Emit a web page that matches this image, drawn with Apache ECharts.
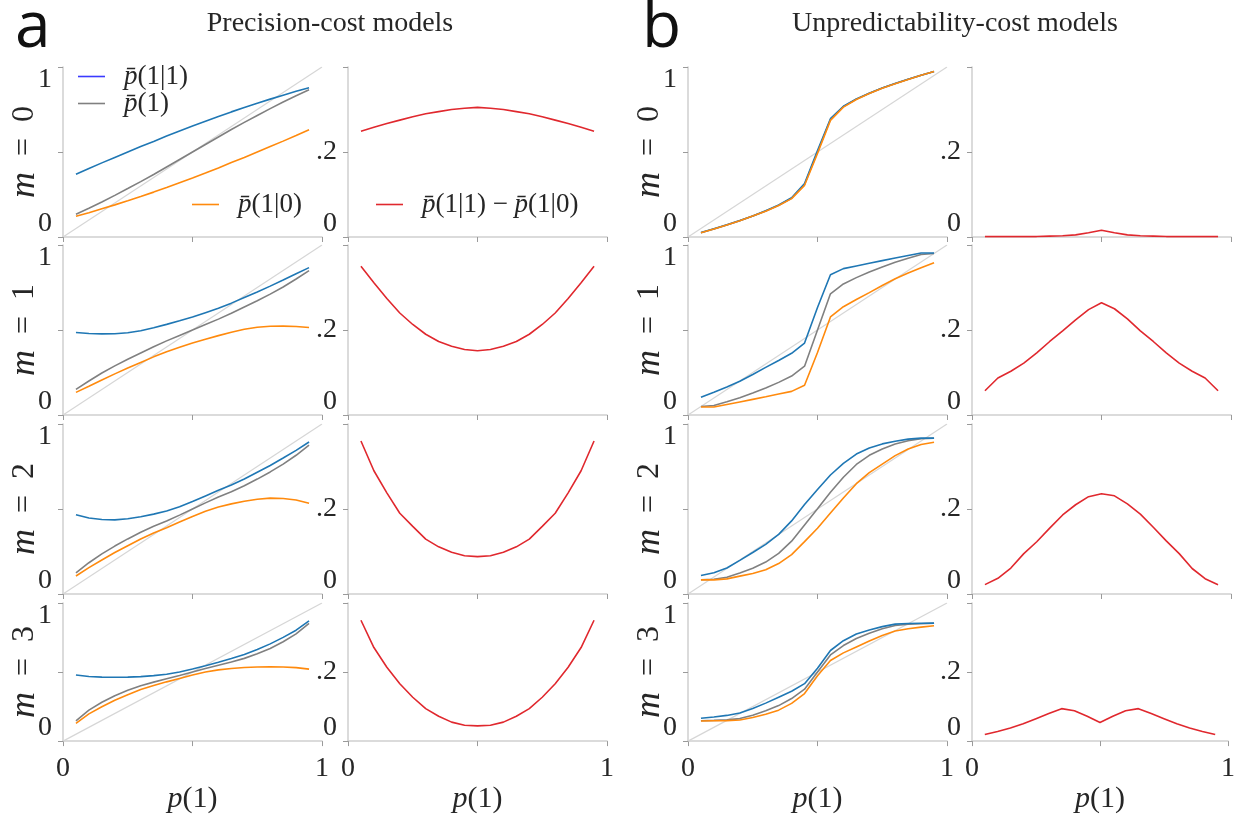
<!DOCTYPE html>
<html>
<head>
<meta charset="utf-8">
<script src="https://cdn.jsdelivr.net/npm/echarts@6/dist/echarts.min.js"></script>
<style>
  html, body { margin: 0; padding: 0; background: #ffffff; }
  #chart { width: 1238px; height: 815px; }
</style>
</head>
<body>
<div id="chart"></div>
<script>
// p(1) grid shared by every panel
const pValues = [0.05, 0.10, 0.15, 0.20, 0.25, 0.30, 0.35, 0.40, 0.45, 0.50,
                 0.55, 0.60, 0.65, 0.70, 0.75, 0.80, 0.85, 0.90, 0.95];
const memoryLevels = ['0', '1', '2', '3'];
const panelTitles = ['Precision-cost models', 'Unpredictability-cost models'];
const panelLetters = ['a', 'b'];

// Precision-cost models, one row per memory length m
const precBlue = [
  [0.369,0.403,0.436,0.468,0.500,0.532,0.562,0.594,0.624,0.653,0.681,0.709,0.736,0.762,0.787,0.811,0.834,0.857,0.878],
  [0.485,0.479,0.477,0.478,0.484,0.496,0.513,0.533,0.554,0.576,0.602,0.628,0.658,0.691,0.724,0.758,0.794,0.831,0.867],
  [0.466,0.447,0.438,0.436,0.443,0.454,0.470,0.488,0.513,0.544,0.577,0.610,0.641,0.676,0.716,0.756,0.800,0.845,0.894],
  [0.479,0.468,0.463,0.462,0.463,0.467,0.474,0.484,0.500,0.522,0.546,0.571,0.598,0.627,0.664,0.704,0.751,0.803,0.871]
];
const precGray = [
  [0.134,0.169,0.206,0.245,0.285,0.326,0.368,0.412,0.456,0.500,0.544,0.588,0.632,0.674,0.715,0.755,0.794,0.831,0.866],
  [0.151,0.200,0.247,0.289,0.328,0.365,0.402,0.436,0.468,0.500,0.532,0.564,0.598,0.635,0.672,0.711,0.753,0.800,0.849],
  [0.124,0.184,0.236,0.282,0.324,0.363,0.398,0.429,0.464,0.500,0.536,0.571,0.602,0.637,0.676,0.718,0.764,0.816,0.876],
  [0.147,0.224,0.281,0.329,0.368,0.401,0.427,0.451,0.475,0.500,0.525,0.549,0.573,0.599,0.632,0.671,0.719,0.776,0.853]
];
const precOrange = [
  [0.122,0.143,0.166,0.189,0.213,0.238,0.264,0.291,0.319,0.347,0.376,0.406,0.438,0.468,0.500,0.532,0.564,0.597,0.631],
  [0.133,0.169,0.206,0.242,0.276,0.309,0.342,0.372,0.398,0.424,0.446,0.467,0.487,0.504,0.516,0.522,0.523,0.521,0.515],
  [0.106,0.155,0.200,0.244,0.284,0.324,0.359,0.390,0.423,0.456,0.487,0.512,0.530,0.546,0.557,0.564,0.562,0.553,0.534],
  [0.129,0.197,0.249,0.296,0.336,0.373,0.402,0.429,0.454,0.478,0.500,0.516,0.526,0.533,0.537,0.538,0.537,0.532,0.521]
];
const precDiff = [
  [0.249,0.258,0.267,0.275,0.283,0.290,0.295,0.300,0.303,0.305,0.303,0.300,0.295,0.290,0.283,0.275,0.267,0.258,0.249],
  [0.350,0.311,0.274,0.240,0.213,0.190,0.173,0.162,0.154,0.151,0.154,0.162,0.173,0.190,0.213,0.240,0.274,0.311,0.350],
  [0.360,0.290,0.238,0.190,0.159,0.129,0.111,0.098,0.090,0.088,0.090,0.098,0.111,0.129,0.159,0.190,0.238,0.290,0.360],
  [0.350,0.271,0.214,0.166,0.127,0.094,0.072,0.055,0.046,0.044,0.046,0.055,0.072,0.094,0.127,0.166,0.214,0.271,0.350]
];

// Unpredictability-cost models
const unpBlue = [
  [0.026,0.048,0.072,0.097,0.124,0.154,0.188,0.231,0.314,0.508,0.696,0.769,0.812,0.846,0.876,0.903,0.928,0.952,0.974],
  [0.104,0.134,0.165,0.199,0.238,0.280,0.321,0.363,0.423,0.632,0.825,0.861,0.877,0.893,0.908,0.923,0.938,0.953,0.953],
  [0.109,0.125,0.153,0.198,0.244,0.292,0.351,0.430,0.526,0.615,0.700,0.768,0.823,0.859,0.883,0.899,0.911,0.917,0.917],
  [0.165,0.175,0.186,0.203,0.236,0.275,0.318,0.361,0.416,0.527,0.656,0.727,0.776,0.805,0.829,0.847,0.852,0.853,0.854]
];
const unpGray = [
  [0.025,0.047,0.071,0.096,0.123,0.153,0.186,0.228,0.309,0.500,0.691,0.767,0.811,0.845,0.876,0.903,0.928,0.952,0.974],
  [0.050,0.056,0.078,0.101,0.129,0.159,0.192,0.229,0.287,0.500,0.713,0.771,0.808,0.841,0.871,0.899,0.922,0.944,0.950],
  [0.084,0.087,0.099,0.124,0.152,0.188,0.239,0.311,0.406,0.501,0.599,0.687,0.762,0.816,0.853,0.882,0.902,0.913,0.916],
  [0.147,0.150,0.154,0.163,0.187,0.219,0.257,0.308,0.376,0.500,0.624,0.692,0.743,0.781,0.813,0.837,0.846,0.850,0.853]
];
const unpOrange = [
  [0.025,0.047,0.071,0.096,0.123,0.152,0.185,0.226,0.304,0.492,0.686,0.764,0.809,0.844,0.875,0.902,0.927,0.951,0.973],
  [0.047,0.047,0.062,0.077,0.092,0.107,0.123,0.139,0.175,0.368,0.577,0.637,0.679,0.720,0.762,0.801,0.835,0.866,0.896],
  [0.083,0.083,0.089,0.105,0.121,0.143,0.179,0.232,0.308,0.387,0.476,0.565,0.649,0.714,0.764,0.814,0.853,0.879,0.893],
  [0.146,0.147,0.148,0.153,0.171,0.195,0.224,0.273,0.344,0.473,0.584,0.639,0.682,0.725,0.764,0.797,0.814,0.825,0.835]
];
const unpDiff = [
  [0.001,0.001,0.001,0.001,0.001,0.002,0.003,0.005,0.010,0.016,0.010,0.005,0.003,0.002,0.001,0.001,0.001,0.001,0.001],
  [0.057,0.087,0.103,0.122,0.146,0.173,0.198,0.224,0.248,0.264,0.250,0.226,0.198,0.173,0.146,0.122,0.103,0.087,0.057],
  [0.022,0.037,0.061,0.095,0.123,0.155,0.186,0.210,0.229,0.236,0.231,0.212,0.188,0.157,0.125,0.095,0.060,0.036,0.022],
  [0.019,0.028,0.038,0.050,0.065,0.080,0.094,0.088,0.072,0.054,0.072,0.088,0.094,0.080,0.065,0.050,0.038,0.028,0.019]
];

// series names (legend entries)
const NAME_COND1 = 'cond1';
const NAME_MARG = 'marg';
const NAME_COND0 = 'cond0';
const NAME_DIFF = 'diff';

const COLORS = {
  blue: '#1f77b4', gray: '#808080', orange: '#ff8a0d', red: '#e0282e',
  diag: '#d6d6d6', axis: '#cfcfcf', tick: '#9a9a9a', text: '#262626',
  legendBlue: '#3a3aff'
};
const SERIF = '"Liberation Serif", "DejaVu Serif", serif';
const FS = 28;

// panel layout
const colLeft = [63, 348, 688, 972];
const colWidth = 259;
const rowTop = [67, 245, 424, 603];
const rowHeight = 170;

const grids = [], xAxes = [], yAxes = [], series = [];

function pairs(ys) { return pValues.map((p, i) => [p, ys[i]]); }

const richX = {
  i: { fontFamily: SERIF, fontStyle: 'italic', fontSize: 30, color: COLORS.text },
  t: { fontFamily: SERIF, fontSize: 30, color: COLORS.text }
};
const richY = {
  i: { fontFamily: SERIF, fontStyle: 'italic', fontSize: 36, color: COLORS.text },
  t: { fontFamily: SERIF, fontSize: 32, color: COLORS.text }
};

for (let r = 0; r < 4; r++) {
  for (let c = 0; c < 4; c++) {
    const idx = r * 4 + c;
    const isDiff = (c === 1 || c === 3);
    grids.push({ left: colLeft[c], top: rowTop[r], width: colWidth, height: rowHeight, containLabel: false });

    const lastRow = r === 3;
    xAxes.push({
      type: 'value', gridIndex: idx, min: 0, max: 1, interval: 0.5,
      axisLine: { show: true, lineStyle: { color: COLORS.axis, width: 1.5 } },
      axisTick: { show: true, length: 5, lineStyle: { color: COLORS.tick, width: 1 } },
      splitLine: { show: false },
      axisLabel: {
        show: lastRow, margin: 14, fontFamily: SERIF, fontSize: FS, color: COLORS.text,
        formatter: v => (v === 0 ? '0' : (v === 1 ? '1' : ''))
      },
      name: lastRow ? '{i|p}{t|(1)}' : '',
      nameLocation: 'middle', nameGap: 12,
      nameTextStyle: { rich: richX }
    });

    const yLabelRich = {
      hi: { fontFamily: SERIF, fontSize: FS, color: COLORS.text, padding: [26, 0, 0, 0] },
      lo: { fontFamily: SERIF, fontSize: FS, color: COLORS.text, padding: [0, 0, 26, 0] }
    };
    yAxes.push({
      type: 'value', gridIndex: idx, min: 0, max: isDiff ? 0.4 : 1, interval: isDiff ? 0.2 : 0.5,
      axisLine: { show: true, lineStyle: { color: COLORS.axis, width: 1.5 } },
      axisTick: { show: true, length: 5, lineStyle: { color: COLORS.tick, width: 1 } },
      splitLine: { show: false },
      axisLabel: {
        show: true, margin: 11, fontFamily: SERIF, fontSize: FS, color: COLORS.text,
        rich: yLabelRich,
        formatter: isDiff
          ? (v => (v === 0 ? '{lo|0}' : (Math.abs(v - 0.2) < 1e-9 ? '.2' : '')))
          : (v => (v === 0 ? '{lo|0}' : (v === 1 ? '{hi|1}' : '')))
      },
      name: isDiff ? '' : '{i|m}{t|\u2002=\u2002' + memoryLevels[r] + '}',
      nameLocation: 'middle', nameRotate: 90, nameGap: 20, nameMoveOverlap: false,
      nameTextStyle: { rich: richY }
    });

    const base = { type: 'line', xAxisIndex: idx, yAxisIndex: idx, symbol: 'none',
                   showSymbol: false, smooth: false, animation: false, silent: true };
    if (!isDiff) {
      const src = c === 0
        ? { b: precBlue, g: precGray, o: precOrange }
        : { b: unpBlue, g: unpGray, o: unpOrange };
      series.push(Object.assign({}, base, {
        name: 'identity', data: [[0, 0], [1, 1]],
        lineStyle: { color: COLORS.diag, width: 1.2 }, itemStyle: { color: COLORS.diag }
      }));
      series.push(Object.assign({}, base, {
        name: NAME_MARG, data: pairs(src.g[r]),
        lineStyle: { color: COLORS.gray, width: 1.6 }, itemStyle: { color: COLORS.gray }
      }));
      series.push(Object.assign({}, base, {
        name: NAME_COND1, data: pairs(src.b[r]),
        lineStyle: { color: COLORS.blue, width: 1.6 }, itemStyle: { color: COLORS.blue }
      }));
      series.push(Object.assign({}, base, {
        name: NAME_COND0, data: pairs(src.o[r]),
        lineStyle: { color: COLORS.orange, width: 1.6 }, itemStyle: { color: COLORS.orange }
      }));
    } else {
      const d = c === 1 ? precDiff : unpDiff;
      series.push(Object.assign({}, base, {
        name: NAME_DIFF, data: pairs(d[r]),
        lineStyle: { color: COLORS.red, width: 1.6 }, itemStyle: { color: COLORS.red }
      }));
    }
  }
}

const legendRich = {
  i: { fontFamily: SERIF, fontStyle: 'italic', fontSize: 27, color: COLORS.text },
  t: { fontFamily: SERIF, fontSize: 27, color: COLORS.text },
  s: { width: 14 }
};
const legendLabels = {};
legendLabels[NAME_COND1] = '{s|}{i|p\u0304}{t|(1|1)}';
legendLabels[NAME_MARG] = '{s|}{i|p\u0304}{t|(1)}';
legendLabels[NAME_COND0] = '{s|}{i|p\u0304}{t|(1|0)}';
legendLabels[NAME_DIFF] = '{s|}{i|p\u0304}{t|(1|1) \u2212 }{i|p\u0304}{t|(1|0)}';

const legendColors = {};
legendColors[NAME_COND1] = COLORS.legendBlue;
legendColors[NAME_MARG] = COLORS.gray;
legendColors[NAME_COND0] = COLORS.orange;
legendColors[NAME_DIFF] = COLORS.red;

function legendBlock(names, left, top) {
  return {
    left: left, top: top, orient: 'vertical', itemGap: 0, itemWidth: 27, itemHeight: 1.6,
    selectedMode: false, icon: 'rect',
    textStyle: { rich: legendRich, lineHeight: 27 },
    formatter: n => legendLabels[n],
    data: names.map(n => ({ name: n, itemStyle: { color: legendColors[n] } }))
  };
}

const LETTER_FONT = '"Open Sans", "Noto Sans", sans-serif';
const option = {
  backgroundColor: '#ffffff',
  animation: false,
  title: [
    { text: panelTitles[0], left: 325, top: 5, textAlign: 'center',
      textStyle: { fontFamily: SERIF, fontSize: 28, fontWeight: 'normal', color: COLORS.text } },
    { text: panelTitles[1], left: 950, top: 5, textAlign: 'center',
      textStyle: { fontFamily: SERIF, fontSize: 28, fontWeight: 'normal', color: COLORS.text } },
    { text: panelLetters[0], left: 10, top: -8,
      textStyle: { fontFamily: LETTER_FONT, fontSize: 64, fontWeight: 'normal', color: '#111' } },
    { text: panelLetters[1], left: 637, top: -8,
      textStyle: { fontFamily: LETTER_FONT, fontSize: 64, fontWeight: 'normal', color: '#111' } }
  ],
  legend: [
    legendBlock([NAME_COND1, NAME_MARG], 73, 58),
    legendBlock([NAME_COND0], 187, 186),
    legendBlock([NAME_DIFF], 371, 186)
  ],
  grid: grids,
  xAxis: xAxes,
  yAxis: yAxes,
  series: series
};

const chart = echarts.init(document.getElementById('chart'), null, { renderer: 'canvas' });
chart.setOption(option);
</script>
</body>
</html>
